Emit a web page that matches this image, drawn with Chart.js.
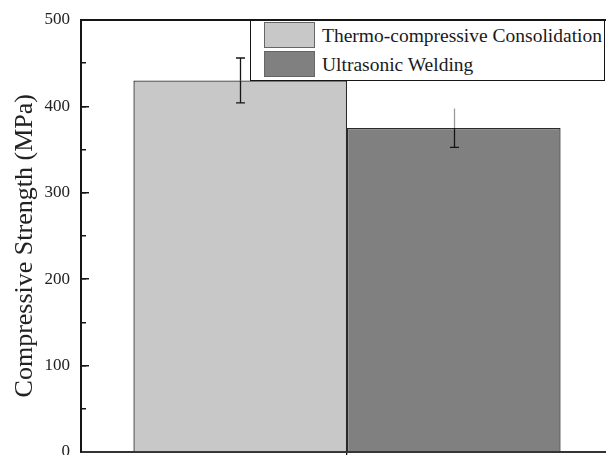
<!DOCTYPE html>
<html>
<head>
<meta charset="utf-8">
<script src="https://cdn.jsdelivr.net/npm/chart.js@4.4.1/dist/chart.umd.min.js"></script>
<style>
html, body { margin: 0; padding: 0; background: #fff; width: 606px; height: 455px; overflow: hidden; }
#wrap { position: relative; width: 620px; height: 462px; }
#legend {
    position: absolute; left: 250px; top: 20px; width: 355px; height: 61px;
    box-sizing: border-box; border: 1.5px solid #151515; background: #fff;
    font-family: 'Liberation Serif', 'DejaVu Serif', serif; font-size: 19.5px; color: #1a1a1a;
}
#legend .item { position: absolute; left: 13px; height: 26px; line-height: 26px; white-space: nowrap; }
#legend .box { display: inline-block; vertical-align: top; width: 51px; height: 26px; box-sizing: border-box; border: 1px solid #666; }
#legend .txt { display: inline-block; vertical-align: top; margin-left: 7px; position: relative; top: 1px; }
</style>
</head>
<body>
<div id="wrap">
    <canvas id="c" width="620" height="462" style="width:620px;height:462px"></canvas>
    <div id="legend"></div>
</div>
<script>
// data
const categories = [''];
const seriesNames = ['Thermo-compressive Consolidation', 'Ultrasonic Welding'];
const thermoValues = [430];
const weldingValues = [375];
const thermoErrors = [26];
const weldingErrors = [22.5];
const yMin = 0, yMax = 500, yStep = 100, yMinorStep = 50;
const yTitle = 'Compressive Strength (MPa)';

const serif = "'Liberation Serif', 'DejaVu Serif', serif";

// error bars drawn from the y scale
const errorBars = {
    id: 'errorBars',
    afterDatasetsDraw: function (chart) {
        const ctx = chart.ctx;
        const ys = chart.scales.y;
        chart.data.datasets.forEach(function (ds, i) {
            const meta = chart.getDatasetMeta(i);
            meta.data.forEach(function (bar, j) {
                const v = ds.data[j], e = ds.errors[j];
                const x = Math.round(bar.x) + 0.5;
                const yTop = ys.getPixelForValue(v + e);
                const yVal = ys.getPixelForValue(v);
                const yBot = ys.getPixelForValue(v - e);
                ctx.save();
                ctx.lineWidth = 1.3;
                ctx.strokeStyle = ds.errorTopColor;
                ctx.beginPath();
                ctx.moveTo(x, yTop); ctx.lineTo(x, yVal);
                if (ds.errorTopCap) { ctx.moveTo(x - 4.5, yTop); ctx.lineTo(x + 4.5, yTop); }
                ctx.stroke();
                ctx.strokeStyle = '#151515';
                ctx.beginPath();
                ctx.moveTo(x, yVal); ctx.lineTo(x, yBot);
                ctx.moveTo(x - 4.5, yBot); ctx.lineTo(x + 4.5, yBot);
                ctx.stroke();
                ctx.restore();
            });
        });
    }
};

const chart = new Chart(document.getElementById('c'), {
    type: 'bar',
    data: {
        labels: categories,
        datasets: [
            { label: seriesNames[0], data: thermoValues, errors: thermoErrors,
              backgroundColor: '#c8c8c8', borderColor: '#2a2a2a', borderWidth: 1.3,
              errorTopColor: '#151515', errorTopCap: true },
            { label: seriesNames[1], data: weldingValues, errors: weldingErrors,
              backgroundColor: '#808080', borderColor: '#2a2a2a', borderWidth: 1.3,
              errorTopColor: '#9a9a9a', errorTopCap: false }
        ]
    },
    options: {
        responsive: false,
        animation: false,
        categoryPercentage: 0.803,
        barPercentage: 1,
        layout: { padding: { left: 0, top: 20, right: 7, bottom: 2 } },
        plugins: { legend: { display: false }, tooltip: { enabled: false } },
        scales: {
            x: {
                type: 'category', position: 'bottom', offset: true,
                ticks: { display: false },
                grid: { display: true, drawOnChartArea: false, drawTicks: true, tickLength: 8, offset: false, color: '#151515', lineWidth: 1.3 },
                border: { display: true, width: 2, color: '#333' }
            },
            xTop: {
                type: 'linear', position: 'top', min: 0, max: 1,
                ticks: { display: false },
                grid: { display: false, drawTicks: false },
                border: { display: true, width: 2, color: '#151515' },
                afterFit: function (s) { s.height = 0; }
            },
            y: {
                type: 'linear', position: 'left', weight: 1, min: yMin, max: yMax,
                ticks: { stepSize: yStep, padding: 19, color: '#222', font: { family: serif, size: 17 } },
                grid: { display: true, drawOnChartArea: false, drawTicks: true, tickLength: -8, color: '#151515', lineWidth: 1.5 },
                border: { display: true, width: 2, color: '#151515' },
                title: { display: true, text: yTitle + '   ', color: '#222', font: { family: serif, size: 26 }, padding: { top: 10, bottom: 0 } },
                afterFit: function (s) { s.width = 81; s.paddingTop = 0; s.paddingBottom = 0; }
            },
            yMinor: {
                type: 'linear', position: 'left', weight: 0, min: yMin, max: yMax,
                ticks: { display: false, stepSize: yMinorStep },
                grid: { display: true, drawOnChartArea: false, drawTicks: true, tickLength: -5, color: '#151515', lineWidth: 1.5 },
                border: { display: false },
                afterFit: function (s) { s.width = 0; s.paddingTop = 0; s.paddingBottom = 0; }
            }
        }
    },
    plugins: [errorBars]
});

// legend built from the chart's datasets
const legend = document.getElementById('legend');
chart.data.datasets.forEach(function (ds, i) {
    const item = document.createElement('div');
    item.className = 'item';
    item.style.top = (1 + i * 29) + 'px';
    const box = document.createElement('span');
    box.className = 'box';
    box.style.background = ds.backgroundColor;
    const txt = document.createElement('span');
    txt.className = 'txt';
    txt.textContent = ds.label;
    item.appendChild(box);
    item.appendChild(txt);
    legend.appendChild(item);
});
</script>
</body>
</html>
